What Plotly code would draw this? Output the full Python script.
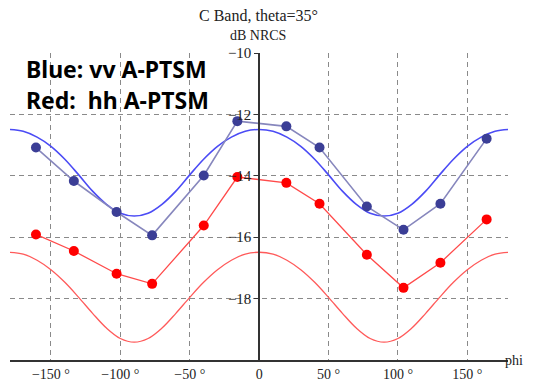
import plotly.graph_objects as go

# Measured azimuth angles (deg) and NRCS values (dB)
phi_obs = [-160.8, -133.5, -102.7, -77.1, -39.9, -15.7, 19.6, 43.5, 77.6, 104.0, 130.6, 163.9]
vv_obs = [-13.08, -14.17, -15.18, -15.94, -13.99, -12.22, -12.39, -13.08, -15.00, -15.76, -14.91, -12.79]
hh_obs = [-15.91, -16.45, -17.19, -17.52, -15.62, -14.04, -14.23, -14.91, -16.57, -17.65, -16.83, -15.42]

# Model curves (A-PTSM) every 10 degrees
phi_model = [-180, -170, -160, -150, -140, -130, -120, -110, -100, -90,
             -80, -70, -60, -50, -40, -30, -20, -10, 0,
             10, 20, 30, 40, 50, 60, 70, 80, 90,
             100, 110, 120, 130, 140, 150, 160, 170, 180]
vv_model = [-12.49, -12.55, -12.74, -13.04, -13.46, -13.97, -14.50, -14.93, -15.22, -15.31,
            -15.22, -14.93, -14.50, -13.97, -13.46, -13.04, -12.74, -12.55, -12.49,
            -12.55, -12.74, -13.04, -13.46, -13.97, -14.50, -14.93, -15.22, -15.31,
            -15.22, -14.93, -14.50, -13.97, -13.46, -13.04, -12.74, -12.55, -12.49]
hh_model = [-16.49, -16.55, -16.75, -17.06, -17.47, -17.96, -18.48, -18.96, -19.30, -19.42,
            -19.30, -18.96, -18.48, -17.96, -17.47, -17.06, -16.75, -16.55, -16.49,
            -16.55, -16.75, -17.06, -17.47, -17.96, -18.48, -18.96, -19.30, -19.42,
            -19.30, -18.96, -18.48, -17.96, -17.47, -17.06, -16.75, -16.55, -16.49]

x_ticks = [-150, -100, -50, 0, 50, 100, 150]
x_ticktext = ["\u2212150 \u00b0", "\u2212100 \u00b0", "\u221250 \u00b0", "0", "50 \u00b0", "100 \u00b0", "150 \u00b0"]
y_ticks = [-18, -16, -14, -12, -10]
y_ticktext = ["\u221218", "\u221216", "\u221214", "\u221212", "\u221210"]

SERIF = "Liberation Serif, Times New Roman, serif"

fig = go.Figure()
fig.add_trace(go.Scatter(x=phi_model, y=vv_model, mode="lines",
                         line=dict(color="#4b4bf5", width=1.6, shape="spline"),
                         hoverinfo="skip", showlegend=False))
fig.add_trace(go.Scatter(x=phi_model, y=hh_model, mode="lines",
                         line=dict(color="#ff5a5a", width=1.3, shape="spline"),
                         hoverinfo="skip", showlegend=False))
fig.add_trace(go.Scatter(x=phi_obs, y=vv_obs, mode="lines+markers",
                         line=dict(color="#8787bd", width=1.6),
                         marker=dict(color="#3b3e96", size=10),
                         showlegend=False))
fig.add_trace(go.Scatter(x=phi_obs, y=hh_obs, mode="lines+markers",
                         line=dict(color="#ff4a4a", width=1.3),
                         marker=dict(color="#ff0000", size=10),
                         showlegend=False))

# the page body adds an 8px offset; size the figure to fill the rest of the window
x_lo, x_hi = -179.5, 179.3
fig.update_layout(
    width=527, height=374,
    margin=dict(l=2, r=27, t=45, b=22, autoexpand=False),
    paper_bgcolor="white", plot_bgcolor="white",
    xaxis=dict(range=[x_lo, x_hi], tickvals=x_ticks, ticktext=x_ticktext, automargin=False,
               showgrid=True, gridcolor="#8a8a8a", griddash="5px,4px", gridwidth=1.2,
               zeroline=False, showline=True, linecolor="#333333", linewidth=1.5,
               ticks="", tickfont=dict(family=SERIF, size=14, color="#222222")),
    yaxis=dict(range=[-20, -10], tickvals=y_ticks, ticktext=y_ticktext, automargin=False,
               showgrid=True, gridcolor="#8a8a8a", griddash="5px,4px", gridwidth=1.2,
               zeroline=False, showline=True, linecolor="#333333", linewidth=1.5,
               anchor="free", position=(0 - x_lo) / (x_hi - x_lo),
               ticks="outside", ticklen=4, tickcolor="#333333",
               tickfont=dict(family=SERIF, size=15, color="#222222")),
    annotations=[
        dict(text="C Band, theta=35\u00b0", x=0.498, y=1.121, xref="paper", yref="paper",
             showarrow=False, xanchor="center", yanchor="middle",
             font=dict(family=SERIF, size=16, color="#222222")),
        dict(text="dB NRCS", x=0.498, y=1.056, xref="paper", yref="paper",
             showarrow=False, xanchor="center", yanchor="middle",
             font=dict(family=SERIF, size=14, color="#222222")),
        dict(text="<b>Blue: vv A-PTSM</b>", x=0.028, y=0.947, xref="paper", yref="paper",
             showarrow=False, xanchor="left", yanchor="middle",
             font=dict(family="Noto Sans, sans-serif", size=23, color="black")),
        dict(text="<b>Red:  hh A-PTSM</b>", x=0.028, y=0.846, xref="paper", yref="paper",
             showarrow=False, xanchor="left", yanchor="middle",
             font=dict(family="Noto Sans, sans-serif", size=23, color="black")),
        dict(text="phi", x=1.034, y=0.0, xref="paper", yref="paper",
             showarrow=False, xanchor="right", yanchor="middle",
             font=dict(family=SERIF, size=14, color="#222222")),
    ],
)

fig.write_html("out.html")
